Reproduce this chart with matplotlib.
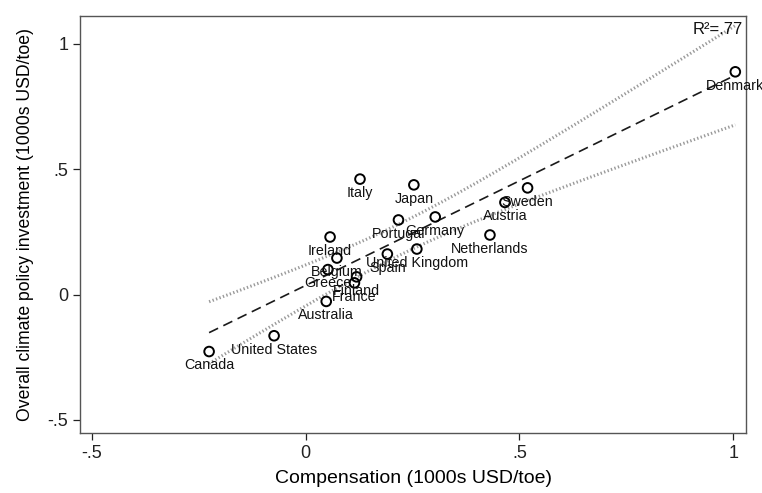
import matplotlib
matplotlib.use("Agg")
import matplotlib.pyplot as plt
import numpy as np

plt.rcParams['font.family'] = ['Liberation Sans', 'DejaVu Sans']

# values
countries = ['Canada', 'United States', 'Australia', 'Italy', 'Japan', 'Sweden',
             'Austria', 'Portugal', 'Germany', 'Netherlands', 'Ireland',
             'United Kingdom', 'Spain', 'Belgium', 'Greece', 'Finland', 'France',
             'Denmark']
compensation = [-0.226, -0.074, 0.048, 0.127, 0.253, 0.519,
                0.466, 0.217, 0.303, 0.431, 0.057,
                0.260, 0.191, 0.073, 0.052, 0.119, 0.114,
                1.005]
investment = [-0.227, -0.164, -0.027, 0.461, 0.438, 0.426,
              0.368, 0.298, 0.310, 0.238, 0.230,
              0.182, 0.162, 0.146, 0.100, 0.071, 0.047,
              0.889]
r2_text = 'R²=.77'
x_ticks = [-0.5, 0, 0.5, 1]
x_ticklabels = ['-.5', '0', '.5', '1']
y_ticks = [-0.5, 0, 0.5, 1]
y_ticklabels = ['-.5', '0', '.5', '1']

x = np.array(compensation)
y = np.array(investment)

# linear fit with 95% CI of the mean (like Stata lfitci)
n = len(x)
b, a = np.polyfit(x, y, 1)
resid = y - (a + b * x)
s = np.sqrt(np.sum(resid ** 2) / (n - 2))
xs = np.linspace(x.min(), x.max(), 200)
yhat = a + b * xs
se = s * np.sqrt(1 / n + (xs - x.mean()) ** 2 / np.sum((x - x.mean()) ** 2))
t = 2.1199  # t(0.975, 16)
lo = yhat - t * se
hi = yhat + t * se

fig = plt.figure(figsize=(7.62, 4.93), dpi=100)
ax = fig.add_axes([0.105, 0.1217, 0.874, 0.846])

ax.plot(xs, hi, color='#9a9a9a', lw=2.2, dashes=(0.45, 0.75))
ax.plot(xs, lo, color='#9a9a9a', lw=2.2, dashes=(0.45, 0.75))
ax.plot(xs, yhat, color='#1a1a1a', lw=1.2, dashes=(6, 3.5))

ax.scatter(x, y, s=48, facecolors='none', edgecolors='black', linewidths=1.4, zorder=3)
for name, xi, yi in zip(countries, x, y):
    ax.annotate(name, (xi, yi), xytext=(0, -10), textcoords='offset points',
                ha='center', va='center', fontsize=10.3, color='#111111')

ax.text(0.995, 0.985, r2_text, transform=ax.transAxes, ha='right', va='top',
        fontsize=12, color='#111111')

ax.set_xlim(-0.528, 1.03)
ax.set_ylim(-0.552, 1.112)
ax.set_xticks(x_ticks)
ax.set_xticklabels(x_ticklabels)
ax.set_yticks(y_ticks)
ax.set_yticklabels(y_ticklabels)
ax.tick_params(direction='out', length=5, width=0.9, labelsize=13, colors='#222222')
for sp in ax.spines.values():
    sp.set_color('#555555')
    sp.set_linewidth(1.0)

ax.set_xlabel('Compensation (1000s USD/toe)', fontsize=14, labelpad=6)
ax.set_ylabel('Overall climate policy investment (1000s USD/toe)', fontsize=12.7, labelpad=10)

fig.savefig('out.png', dpi=100)
